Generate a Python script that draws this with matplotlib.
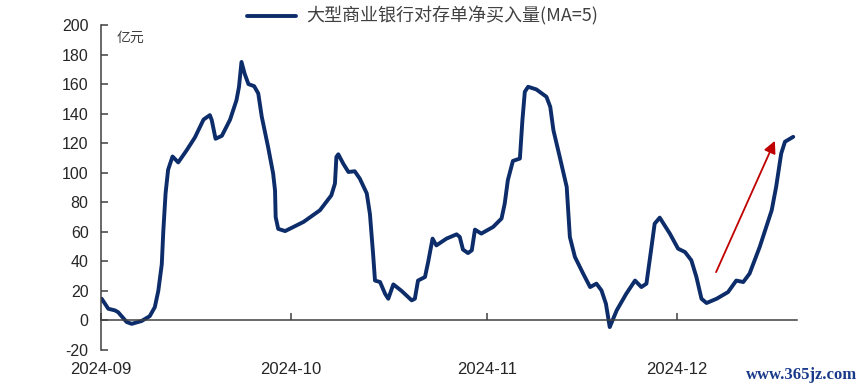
import matplotlib
matplotlib.use("Agg")
import matplotlib.pyplot as plt
import matplotlib.dates as mdates
import pandas as pd

# Days after 2024-09-01 and 5-day moving average of net purchases (亿元)
day_offset = [0.1, 1.15, 2.2, 2.7, 4.06, 4.85, 6.4, 7.7, 8.5, 9.05, 9.6, 9.85,
              10.2, 10.6, 11.3, 12.2, 13.5, 14.85, 16.2, 17.2, 17.5, 18.1, 19.1,
              20.4, 21.4, 21.8, 22.2, 22.7, 23.3, 24.2, 24.85, 25.4, 26.4, 27.2,
              27.5, 27.6, 28.0, 29.1, 32.0, 34.6, 36.4, 36.97, 37.2, 37.5, 38.3,
              39.1, 40.1, 40.9, 42.0, 42.5, 43.0, 43.3, 44.1, 44.9, 45.4, 46.2,
              47.5, 49.1, 49.6, 50.1, 51.2, 51.7, 52.4, 53.0, 54.6, 56.2, 56.7,
              57.2, 58.0, 58.6, 59.1, 60.1, 61.97, 63.3, 63.8, 64.3, 65.1, 66.2,
              66.6, 66.98, 67.5, 68.8, 70.4, 71.0, 71.5, 72.5, 73.6, 74.1, 74.9,
              76.2, 77.3, 78.3, 79.1, 79.8, 80.4, 81.5, 83.0, 84.4, 85.4, 86.2,
              87.0, 87.5, 88.3, 89.9, 91.2, 92.3, 93.3, 94.1, 94.9, 95.7, 97.3,
              99.1, 100.4, 101.5, 102.5, 104.1, 106.0, 106.7, 107.5, 108.1, 109.4]
net_buy = [14.7, 7.9, 6.8, 5.6, -1.1, -2.3, -0.4, 2.9, 9, 20, 38, 61,
           86, 102, 111, 107, 115, 124, 136, 139, 135.6, 123, 125,
           136, 149, 158, 175, 167, 160, 158.6, 153.7, 138, 117.5, 99.5,
           88, 70, 62, 60.5, 66.7, 74.6, 84.7, 92.7, 110.7, 112.5, 106,
           100.5, 101, 96, 86, 72, 45, 27, 26, 18, 14.7, 24.4,
           20, 13.6, 14.7, 27, 29.4, 39.5, 55.4, 50.8, 55.4, 58.3, 56.5,
           48, 45.6, 47.5, 61.5, 58.8, 63.3, 69, 79, 95, 108, 109.6,
           135.6, 154.8, 158.2, 156.4, 151.4, 144.6, 128.8, 110.7, 90.4, 56.5, 43,
           31.7, 22.6, 24.9, 20.3, 11.3, -4.5, 6.8, 18, 27, 22.6, 24.9,
           49.7, 65.5, 69.6, 58.8, 48.6, 46.3, 40.7, 29.4, 14.7, 11.8, 14.7,
           19.2, 27, 26, 31.7, 49.7, 74.6, 90.4, 113, 121, 124.3]

arrow_start = ("2024-12-07 05:00", 32.7)
arrow_end = ("2024-12-16 12:00", 121.6)

start_date = pd.Timestamp("2024-09-01")
dates = start_date + pd.to_timedelta(day_offset, unit="D")

plt.rcParams["font.family"] = ["Liberation Sans", "Noto Sans CJK SC", "DejaVu Sans"]
plt.rcParams["axes.unicode_minus"] = False

fig = plt.figure(figsize=(8.65, 3.91), dpi=100)
ax = fig.add_axes([0.1168, 0.1049, 0.8046, 0.8311])

line, = ax.plot(dates, net_buy, color="#0c2c6a", lw=2.8,
                solid_joinstyle="round", solid_capstyle="round",
                label="大型商业银行对存单净买入量(MA=5)")

ax.annotate("", xy=(pd.Timestamp(arrow_end[0]), arrow_end[1]),
            xytext=(pd.Timestamp(arrow_start[0]), arrow_start[1]),
            arrowprops=dict(arrowstyle="-|>", color="#c00000", lw=1.3,
                            mutation_scale=18, shrinkA=0, shrinkB=0))

ax.set_ylim(-20, 200)
ax.set_yticks(range(-20, 201, 20))
ax.set_xlim(start_date, pd.Timestamp("2024-12-20"))
ax.xaxis.set_major_locator(mdates.MonthLocator())
ax.xaxis.set_major_formatter(mdates.DateFormatter("%Y-%m"))

for side in ["top", "right"]:
    ax.spines[side].set_visible(False)
ax.spines["bottom"].set_position(("data", 0))
for side in ["left", "bottom"]:
    ax.spines[side].set_color("#404040")
    ax.spines[side].set_linewidth(1.1)

ax.tick_params(axis="y", direction="in", length=5, width=1.1, color="#404040",
               labelsize=11.5, labelcolor="#262626", pad=9)
ax.tick_params(axis="x", direction="in", length=5, width=1.1, color="#404040",
               labelsize=12, labelcolor="#262626", pad=30)

ax.text(0.023, 0.96, "亿元", transform=ax.transAxes, fontsize=10,
        color="#404040", ha="left", va="center",
        family=["Noto Sans CJK SC", "DejaVu Sans"])

leg = fig.legend(handles=[line], loc="center", bbox_to_anchor=(0.4884, 0.958),
                 frameon=False, handlelength=2.7, handletextpad=0.55,
                 prop={"family": ["Noto Sans CJK SC", "DejaVu Sans"], "size": 13})
for t in leg.get_texts():
    t.set_color("#404040")

fig.text(0.991, 0.04, "www.365jz.com", ha="right", va="center", fontsize=12,
         color="#1a3a8a", family="Liberation Serif", fontweight="bold")

fig.savefig("out.png", dpi=100)
